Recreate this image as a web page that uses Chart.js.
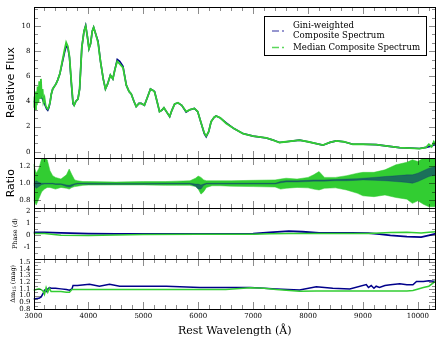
<!DOCTYPE html>
<html>
<head>
<meta charset="utf-8">
<script src="https://cdn.jsdelivr.net/npm/chart.js@4.4.1/dist/chart.umd.min.js"></script>
<style>
    html, body { margin: 0; padding: 0; background: #fff; }
</style>
</head>
<body>
<canvas id="spectrumChart" width="443" height="342"></canvas>
<script>
// wavelength tick labels and per-panel tick labels
const waveTicks = [3000, 4000, 5000, 6000, 7000, 8000, 9000, 10000];
const fluxTicks = [0, 2, 4, 6, 8, 10];
const ratioTicks = [0.8, 1.0, 1.2];
const phaseTicks = [-1, 0, 1, 2];
const dmTicks = [0.8, 0.9, 1.0, 1.1, 1.2, 1.3, 1.4, 1.5];

// composite spectra (relative flux)
const fluxWave = [3000, 3015, 3030, 3045, 3060, 3075, 3090, 3105, 3120, 3135, 3150, 3165, 3180, 3200, 3220, 3240, 3260, 3280, 3300, 3325,
    3350, 3380, 3410, 3440, 3480, 3520, 3565, 3595, 3625, 3655, 3690, 3720, 3740, 3770, 3810, 3840, 3880, 3920, 3950, 3980,
    4010, 4040, 4070, 4095, 4130, 4175, 4220, 4270, 4310, 4350, 4400, 4445, 4480, 4525, 4570, 4630, 4690, 4740, 4780, 4830,
    4870, 4920, 4960, 5020, 5080, 5130, 5170, 5205, 5250, 5295, 5335, 5375, 5420, 5480, 5520, 5570, 5630, 5700, 5780, 5850,
    5930, 5990, 6055, 6110, 6145, 6190, 6235, 6290, 6325, 6400, 6510, 6650, 6815, 7000, 7240, 7350, 7480, 7600, 7845, 8000,
    8270, 8400, 8515, 8650, 8815, 9000, 9240, 9450, 9665, 9850, 10030, 10150, 10200, 10250, 10290, 10330];
const fluxGini = [4.0, 4.0, 4.1, 4.2, 4.3, 4.4, 4.4, 4.3, 4.3, 4.4, 4.3, 4.2, 4.0, 3.8, 3.6, 3.4, 3.3, 3.5, 3.9, 4.6,
    5.0, 5.2, 5.4, 5.7, 6.2, 7.0, 7.9, 8.4, 8.3, 7.5, 5.4, 3.8, 3.7, 4.0, 4.2, 5.0, 8.3, 9.6, 10.05, 9.2,
    8.2, 8.6, 9.6, 9.9, 9.4, 8.8, 7.2, 5.8, 5.0, 5.4, 6.1, 5.8, 6.5, 7.35, 7.2, 6.8, 5.3, 4.8, 4.6, 4.0,
    3.6, 3.85, 3.85, 3.7, 4.4, 5.0, 4.9, 4.8, 4.0, 3.2, 3.3, 3.5, 3.2, 2.8, 3.3, 3.8, 3.9, 3.7, 3.15, 3.35,
    3.45, 3.2, 2.25, 1.45, 1.2, 1.6, 2.4, 2.75, 2.85, 2.7, 2.3, 1.85, 1.45, 1.25, 1.1, 0.95, 0.74, 0.8, 0.93, 0.8,
    0.53, 0.75, 0.87, 0.8, 0.6, 0.6, 0.57, 0.45, 0.33, 0.3, 0.26, 0.35, 0.4, 0.45, 0.55, 0.55];
const fluxMedian = [3.5, 4.4, 3.4, 4.8, 3.7, 5.2, 3.9, 5.6, 4.3, 5.8, 4.4, 5.0, 4.0, 4.3, 3.7, 3.5, 3.4, 3.6, 3.9, 4.6,
    5.0, 5.2, 5.4, 5.7, 6.2, 7.1, 8.1, 8.7, 8.4, 7.6, 5.5, 3.9, 3.7, 4.0, 4.2, 5.0, 8.3, 9.6, 10.0, 9.2,
    8.2, 8.6, 9.6, 9.9, 9.4, 8.7, 7.2, 5.8, 5.0, 5.4, 6.1, 5.8, 6.5, 7.2, 7.0, 6.7, 5.3, 4.8, 4.6, 4.0,
    3.6, 3.85, 3.85, 3.7, 4.4, 5.0, 4.9, 4.75, 4.0, 3.2, 3.3, 3.5, 3.2, 2.8, 3.3, 3.8, 3.9, 3.7, 3.2, 3.35,
    3.45, 3.2, 2.25, 1.5, 1.25, 1.6, 2.4, 2.75, 2.85, 2.7, 2.25, 1.85, 1.45, 1.25, 1.1, 0.95, 0.74, 0.8, 0.93, 0.8,
    0.53, 0.75, 0.87, 0.8, 0.6, 0.6, 0.57, 0.45, 0.33, 0.3, 0.26, 0.35, 0.6, 0.4, 0.8, 0.5];

// ratio panel: spread of the two composites
const ratioWave = [3000, 3050, 3100, 3150, 3200, 3250, 3300, 3350, 3400, 3500, 3600, 3650, 3700, 3750, 3800, 3900, 4000, 4500, 5000, 5400,
    5600, 5850, 5950, 6000, 6050, 6100, 6150, 6250, 6400, 6600, 7000, 7400, 7500, 7600, 7800, 8000, 8100, 8200, 8300, 8500,
    8700, 8900, 9000, 9200, 9400, 9600, 9800, 9900, 10000, 10100, 10200, 10330];
const ratioMedianHi = [1.23, 1.12, 1.18, 1.30, 1.30, 1.28, 1.15, 1.09, 1.07, 1.05, 1.10, 1.17, 1.10, 1.04, 1.03, 1.02, 1.02, 1.015, 1.02, 1.02,
    1.025, 1.03, 1.06, 1.085, 1.07, 1.04, 1.03, 1.03, 1.03, 1.03, 1.035, 1.04, 1.05, 1.06, 1.05, 1.07, 1.10, 1.14, 1.07, 1.07,
    1.09, 1.12, 1.13, 1.13, 1.16, 1.22, 1.25, 1.28, 1.26, 1.30, 1.30, 1.30];
const ratioMedianLo = [0.80, 0.74, 0.82, 0.90, 0.93, 0.95, 0.95, 0.94, 0.93, 0.95, 0.94, 0.93, 0.95, 0.96, 0.965, 0.975, 0.978, 0.98, 0.98, 0.975,
    0.975, 0.975, 0.96, 0.93, 0.87, 0.90, 0.95, 0.97, 0.97, 0.965, 0.96, 0.955, 0.93, 0.94, 0.95, 0.945, 0.93, 0.92, 0.94, 0.945,
    0.92, 0.88, 0.85, 0.84, 0.86, 0.83, 0.81, 0.76, 0.79, 0.75, 0.72, 0.72];
const ratioGiniHi = [1.00, 1.03, 1.01, 1.00, 1.00, 1.00, 1.00, 1.00, 0.995, 0.995, 0.98, 0.975, 0.985, 0.995, 1.00, 1.00, 1.00, 0.998, 0.998, 1.00,
    1.00, 1.00, 0.99, 0.99, 0.98, 0.99, 1.00, 1.00, 1.00, 1.00, 1.00, 1.00, 1.02, 1.03, 1.03, 1.035, 1.04, 1.04, 1.04, 1.045,
    1.05, 1.055, 1.06, 1.07, 1.08, 1.09, 1.10, 1.10, 1.12, 1.15, 1.18, 1.20];
const ratioGiniLo = [0.98, 0.94, 0.96, 0.985, 0.99, 0.99, 0.99, 0.99, 0.985, 0.985, 0.96, 0.955, 0.965, 0.985, 0.99, 0.99, 0.988, 0.988, 0.988, 0.99,
    0.99, 0.99, 0.965, 0.93, 0.93, 0.975, 0.99, 0.99, 0.99, 0.99, 0.99, 0.99, 1.005, 1.015, 1.015, 1.02, 1.025, 1.025, 1.025, 1.03,
    1.03, 1.035, 1.04, 1.035, 1.03, 1.02, 1.01, 1.0, 1.02, 1.05, 1.08, 1.10];

// phase of maximum (days)
const phaseWave = [3000, 3200, 3500, 4000, 4500, 5000, 6000, 7000, 7300, 7650, 7900, 8200, 8800, 9100, 9300, 9500, 9800, 10060, 10200, 10330];
const phaseGini = [0.2, 0.2, 0.15, 0.1, 0.08, 0.08, 0.08, 0.1, 0.2, 0.3, 0.25, 0.15, 0.15, 0.13, 0.05, -0.06, -0.15, -0.2, -0.05, 0.1];
const phaseMedian = [0.1, 0.1, -0.05, -0.06, -0.02, 0.02, 0.05, 0.05, 0.08, 0.1, 0.1, 0.1, 0.1, 0.1, 0.15, 0.18, 0.2, 0.15, 0.2, 0.25];

// decline rate dm15 (mag)
const dmWave = [3000, 3100, 3140, 3180, 3200, 3230, 3260, 3290, 3320, 3400, 3500, 3600, 3655, 3700, 3720, 3800, 4020, 4200, 4385, 4570,
    5000, 5420, 6030, 6500, 6950, 7200, 7420, 7845, 8150, 8450, 8760, 9060, 9100, 9150, 9200, 9240, 9300, 9400, 9500, 9670,
    9800, 9910, 9975, 10100, 10200, 10330];
const dmGini = [0.95, 0.96, 0.98, 1.04, 1.08, 1.06, 1.10, 1.12, 1.11, 1.11, 1.10, 1.09, 1.08, 1.10, 1.15, 1.15, 1.17, 1.14, 1.17, 1.14,
    1.14, 1.14, 1.12, 1.12, 1.12, 1.11, 1.10, 1.085, 1.13, 1.11, 1.10, 1.165, 1.12, 1.15, 1.11, 1.14, 1.12, 1.15, 1.16, 1.175,
    1.16, 1.16, 1.21, 1.21, 1.22, 1.21];
const dmMedian = [1.08, 1.10, 1.09, 1.06, 1.02, 1.12, 1.05, 1.11, 1.06, 1.06, 1.06, 1.05, 1.05, 1.09, 1.09, 1.09, 1.09, 1.09, 1.09, 1.09,
    1.09, 1.09, 1.09, 1.09, 1.115, 1.11, 1.09, 1.065, 1.07, 1.07, 1.07, 1.07, 1.07, 1.07, 1.07, 1.07, 1.07, 1.07, 1.07, 1.07,
    1.07, 1.075, 1.09, 1.12, 1.14, 1.22];

const giniColor = "#00008b";
const medianColor = "#32cd32";
const tickFont = { family: "DejaVu Serif", size: 7 };

function pts(xs, ys) {
    return xs.map((x, i) => ({ x: x, y: ys[i] }));
}

function lineSet(label, xs, ys, axis, color, width, order, extra) {
    return Object.assign({
        label: label,
        data: pts(xs, ys),
        yAxisID: axis,
        borderColor: color,
        backgroundColor: color,
        borderWidth: width,
        pointRadius: 0,
        tension: 0,
        fill: false,
        order: order,
    }, extra || {});
}

function yAxis(min, max, weight, ticks, digits) {
    return {
        type: "linear",
        position: "left",
        stack: "panels",
        stackWeight: weight,
        min: min,
        max: max,
        grid: { display: false, drawTicks: false },
        border: { display: false },
        ticks: {
            autoSkip: false,
            padding: 3,
            color: "#000",
            font: tickFont,
            callback: (v) => (digits ? Number(v).toFixed(digits) : String(v)),
        },
        afterBuildTicks: (scale) => {
            scale.ticks = ticks.map((v) => ({ value: v }));
        },
        afterFit: (scale) => {
            scale.width = 33.5;
        },
    };
}

// inward ticks, panel frames, y titles and legend drawn like the original figure
const panelStyle = [
    { id: "yFlux", major: 2, minor: 2 / 3 },
    { id: "yRatio", major: 0.2, minor: 0.1 },
    { id: "yPhase", major: 1, minor: 0.5 },
    { id: "yDm", major: 0.1, minor: 0.05 },
];

const figurePlugin = {
    id: "figureFrame",
    afterDraw(chart) {
        const ctx = chart.ctx;
        const xs = chart.scales.x;
        const left = Math.round(chart.chartArea.left);
        const right = Math.round(chart.chartArea.right);
        ctx.save();
        panelStyle.forEach((p) => {
            const ys = chart.scales[p.id];
            const top = Math.round(ys.top);
            const bottom = Math.round(ys.bottom);
            ctx.strokeStyle = "rgba(0,0,0,0.45)";
            ctx.lineWidth = 1;
            ctx.beginPath();
            for (let w = 3000; w <= xs.max; w += 200) {
                const px = Math.round(xs.getPixelForValue(w)) + 0.5;
                const len = w % 1000 === 0 ? 7 : 4;
                ctx.moveTo(px, top);
                ctx.lineTo(px, top + len);
                ctx.moveTo(px, bottom);
                ctx.lineTo(px, bottom - len);
            }
            for (let i = Math.ceil(ys.min / p.minor - 1e-6); i * p.minor <= ys.max + 1e-6; i++) {
                const v = i * p.minor;
                const isMajor = Math.abs(v / p.major - Math.round(v / p.major)) < 1e-6;
                const len = isMajor ? 7 : 4;
                const py = Math.round(ys.getPixelForValue(v)) + 0.5;
                ctx.moveTo(left, py);
                ctx.lineTo(left + len, py);
                ctx.moveTo(right, py);
                ctx.lineTo(right - len, py);
            }
            ctx.stroke();
            ctx.strokeStyle = "#000";
            ctx.strokeRect(left + 0.5, top + 0.5, right - left - 1, bottom - top);
        });

        // y titles
        const mid = (id) => (chart.scales[id].top + chart.scales[id].bottom) / 2;
        const vText = (text, x, y, font) => {
            ctx.save();
            ctx.translate(x, y);
            ctx.rotate(-Math.PI / 2);
            ctx.font = font;
            ctx.fillStyle = "#000";
            ctx.textAlign = "center";
            ctx.textBaseline = "middle";
            ctx.fillText(text, 0, 0);
            ctx.restore();
        };
        vText("Relative Flux", 11, mid("yFlux"), "11px 'DejaVu Sans'");
        vText("Ratio", 11, mid("yRatio"), "11px 'DejaVu Sans'");
        vText("Phase (d)", 15, mid("yPhase"), "6.5px 'DejaVu Serif'");

        ctx.save();
        ctx.translate(13, mid("yDm"));
        ctx.rotate(-Math.PI / 2);
        ctx.fillStyle = "#000";
        ctx.textBaseline = "middle";
        ctx.textAlign = "left";
        ctx.font = "6.5px 'DejaVu Serif'";
        const w1 = ctx.measureText("\u0394m").width;
        const w3 = ctx.measureText(" (mag)").width;
        ctx.font = "4.5px 'DejaVu Serif'";
        const w2 = ctx.measureText("15").width;
        let x0 = -(w1 + w2 + w3) / 2;
        ctx.font = "6.5px 'DejaVu Serif'";
        ctx.fillText("\u0394m", x0, 0);
        ctx.font = "4.5px 'DejaVu Serif'";
        ctx.fillText("15", x0 + w1, 2);
        ctx.font = "6.5px 'DejaVu Serif'";
        ctx.fillText(" (mag)", x0 + w1 + w2, 0);
        ctx.restore();

        // legend box
        ctx.fillStyle = "#fff";
        ctx.fillRect(264.5, 16.5, 162, 39);
        ctx.strokeStyle = "#000";
        ctx.lineWidth = 1;
        ctx.strokeRect(264.5, 16.5, 162, 39);
        const handle = (y, color) => {
            ctx.strokeStyle = color;
            ctx.lineWidth = 1.5;
            ctx.beginPath();
            ctx.moveTo(272, y);
            ctx.lineTo(279, y);
            ctx.moveTo(282, y);
            ctx.lineTo(284, y);
            ctx.stroke();
        };
        handle(31, "rgba(0,0,139,0.55)");
        handle(47.5, "rgba(50,205,50,0.8)");
        ctx.fillStyle = "#000";
        ctx.font = "8.6px 'DejaVu Serif'";
        ctx.textAlign = "left";
        ctx.textBaseline = "middle";
        ctx.fillText("Gini-weighted", 293, 26);
        ctx.fillText("Composite Spectrum", 293, 35.5);
        ctx.fillText("Median Composite Spectrum", 293, 47.5);
        ctx.restore();
    },
};

const ctx = document.getElementById("spectrumChart").getContext("2d");
new Chart(ctx, {
    type: "line",
    data: {
        datasets: [
            lineSet("Gini-weighted Composite Spectrum", fluxWave, fluxGini, "yFlux", giniColor, 1.6, 2),
            lineSet("Median Composite Spectrum", fluxWave, fluxMedian, "yFlux", medianColor, 1.8, 1),
            lineSet("Median ratio high", ratioWave, ratioMedianHi, "yRatio", medianColor, 0.5, 4),
            lineSet("Median ratio low", ratioWave, ratioMedianLo, "yRatio", medianColor, 0.5, 4, { fill: "-1" }),
            lineSet("Gini ratio high", ratioWave, ratioGiniHi, "yRatio", "rgba(0,0,139,0.45)", 0.5, 3),
            lineSet("Gini ratio low", ratioWave, ratioGiniLo, "yRatio", "rgba(0,0,139,0.45)", 0.5, 3, { fill: "-1" }),
            lineSet("Gini phase", phaseWave, phaseGini, "yPhase", giniColor, 1.8, 6),
            lineSet("Median phase", phaseWave, phaseMedian, "yPhase", medianColor, 1.5, 5),
            lineSet("Gini dm15", dmWave, dmGini, "yDm", giniColor, 1.5, 8),
            lineSet("Median dm15", dmWave, dmMedian, "yDm", medianColor, 1.5, 7),
        ],
    },
    options: {
        responsive: false,
        animation: false,
        layout: { padding: { left: 0, right: 7, top: 5, bottom: 0 } },
        plugins: {
            legend: { display: false },
            tooltip: { enabled: false },
        },
        scales: {
            x: {
                type: "linear",
                position: "bottom",
                min: 3000,
                max: 10330,
                grid: { display: false, drawTicks: false },
                border: { display: false },
                ticks: {
                    autoSkip: false,
                    maxRotation: 0,
                    padding: 3,
                    color: "#000",
                    font: tickFont,
                    callback: (v) => String(v),
                },
                afterBuildTicks: (scale) => {
                    scale.ticks = waveTicks.map((v) => ({ value: v }));
                },
                afterFit: (scale) => {
                    scale.height = 33;
                },
                title: {
                    display: true,
                    text: "Rest Wavelength (\u00c5)",
                    color: "#000",
                    font: { family: "DejaVu Serif", size: 11 },
                    padding: { top: 0, bottom: 4 },
                },
            },
            yDm: yAxis(0.8, 1.55, 1, dmTicks, 1),
            yPhase: yAxis(-2, 2.2, 1, phaseTicks, 0),
            yRatio: yAxis(0.7, 1.3, 1, ratioTicks, 1),
            yFlux: yAxis(-0.5, 11.5, 3, fluxTicks, 0),
        },
    },
    plugins: [figurePlugin],
});
</script>
</body>
</html>
